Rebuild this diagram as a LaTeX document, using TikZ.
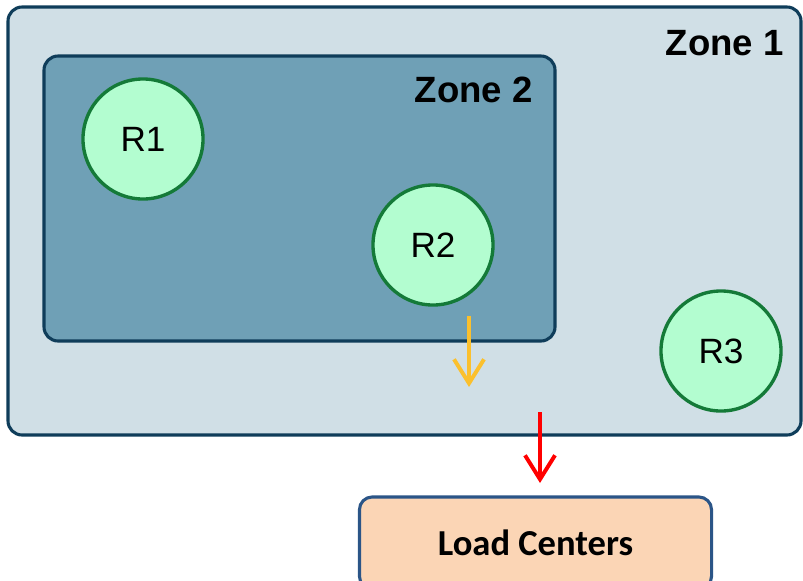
\documentclass[tikz,border=0pt]{standalone}
\usepackage{fontspec}
\setmainfont{Liberation Sans}
\newfontfamily\loadfont{Carlito}
\usetikzlibrary{arrows.meta,positioning}

\definecolor{zoneline}{HTML}{0F3D5A}
\definecolor{zoneone}{HTML}{D0DFE6}
\definecolor{zonetwo}{HTML}{6FA0B6}
\definecolor{resfill}{HTML}{B3FDD0}
\definecolor{resline}{HTML}{147A38}
\definecolor{loadfill}{HTML}{FBD5B5}
\definecolor{loadline}{HTML}{2B5587}
\definecolor{gold}{HTML}{FBC02D}

\tikzset{
  zone/.style={draw=zoneline,line width=2.2pt,rounded corners=10pt},
  zonelabel/.style={anchor=base east,inner sep=0pt,font=\fontsize{26}{30}\selectfont\bfseries},
  res/.style={circle,draw=resline,fill=resfill,line width=2.4pt,minimum size=3.0cm,
    inner sep=0pt,font=\fontsize{25}{28}\selectfont},
  loadbox/.style={draw=loadline,fill=loadfill,line width=2.2pt,rounded corners=9pt,
    minimum width=8.8cm,minimum height=2.3cm,font=\loadfont\fontsize{26}{30}\selectfont\bfseries},
  flow/.style={line width=2.8pt,-{Straight Barb[length=0.6cm,width=0.75cm,line width=2.8pt]}}
}

\begin{document}
\begin{tikzpicture}[x=0.025cm,y=-0.025cm]
    \useasboundingbox (0,0) rectangle (803,580);
    \clip (0,0) rectangle (803,580);
    % the two zones
    \draw [zone,fill=zoneone] (8,7) rectangle (801,435);
    \node [zonelabel] (z1) at (784,55) {Zone 1};
    \draw [zone,fill=zonetwo] (44,56) rectangle (555,341);
    \node [zonelabel] (z2) at (533,102) {Zone 2};
    % regions
    \node [res] (r1) at (143,139) {R1};
    \node [res] (r2) at (433,245) {R2};
    \node [res] (r3) at (721,351) {R3};
    % load centers, cut off at the bottom
    \node [loadbox] (load) at (535.5,543) {Load Centers};
    % flows
    \coordinate (a) at (469,316);
    \coordinate (b) at (469,387);
    \coordinate (c) at (540,412);
    \coordinate (d) at (540,483);
    \draw [flow,gold] (a) -- (b);
    \draw [flow,red] (c) -- (d);
\end{tikzpicture}
\end{document}
